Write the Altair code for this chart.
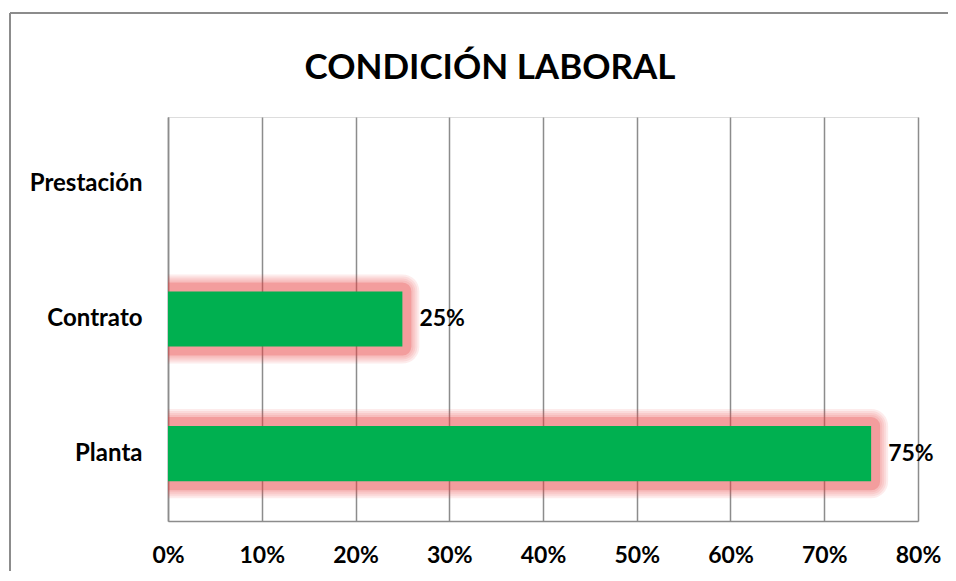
import altair as alt
import pandas as pd

categories = ["Prestación", "Contrato", "Planta"]
values = [None, 0.25, 0.75]
labels = ["", "25%", "75%"]
ticks = [0, 0.1, 0.2, 0.3, 0.4, 0.5, 0.6, 0.7, 0.8]

df = pd.DataFrame({"cat": categories, "val": values, "lab": labels})
bars_df = df.dropna()

FONT = "Lato"
GRID = "#8C8C8C"

xscale = alt.Scale(domain=[0, 0.8], nice=False, zero=True)
yscale = alt.Scale(domain=categories, paddingInner=0.59, paddingOuter=0.295)

x_enc = alt.X("val:Q", scale=xscale,
              axis=alt.Axis(values=ticks, format=".0%", title=None, grid=True,
                            gridColor=GRID, gridWidth=1.5, domainColor=GRID,
                            domainWidth=1.5, ticks=False, labelPadding=23,
                            labelFlush=False,
                            labelFont=FONT, labelFontSize=23, labelFontWeight="bold",
                            labelColor="black"))
y_enc = alt.Y("cat:N", scale=yscale, sort=categories,
              axis=alt.Axis(title=None, ticks=False, domainColor=GRID, domainWidth=1.5,
                            labelPadding=26, labelFont=FONT, labelFontSize=24,
                            labelFontWeight="bold", labelColor="black"))

base = alt.Chart(bars_df)

glow_layers = []
for w, op in [(34, 0.1), (30, 0.1), (26, 0.1), (22, 0.1), (18, 0.25)]:
    glow_layers.append(
        base.mark_bar(fillOpacity=0, stroke="#E84040", strokeOpacity=op,
                      strokeWidth=w, strokeJoin="round", clip=True)
        .encode(x=x_enc, y=y_enc)
    )

bars = base.mark_bar(color="#00B050").encode(x=x_enc, y=y_enc)

text = base.mark_text(align="left", baseline="middle", dx=17, font=FONT,
                      fontSize=23, fontWeight="bold", color="black").encode(
    x=alt.X("val:Q", scale=xscale), y=alt.Y("cat:N", scale=yscale, sort=categories),
    text="lab:N")

border_df = pd.DataFrame({"a": [0]})
border_top = alt.Chart(border_df).mark_rule(color="#8C8C8C", strokeWidth=2, clip=False).encode(
    x=alt.value(-158), x2=alt.value(800), y=alt.value(-104))
border_left = alt.Chart(border_df).mark_rule(color="#8C8C8C", strokeWidth=2, clip=False).encode(
    x=alt.value(-158), y=alt.value(-104), y2=alt.value(480))

chart = alt.layer(border_top, border_left, *glow_layers, bars, text).properties(
    width=750, height=404,
    autosize=alt.AutoSizeParams(type="none"),
    padding={"left": 160, "top": 109, "right": 30, "bottom": 50},
    title=alt.TitleParams(text="CONDICIÓN LABORAL", font=FONT, fontSize=35,
                          fontWeight="bold", color="black", anchor="middle",
                          baseline="alphabetic", dx=-53, dy=102, offset=0),
).configure_view(stroke=None).configure(background="white")

chart.save("out.html", embed_options={"renderer": "svg", "actions": False})
